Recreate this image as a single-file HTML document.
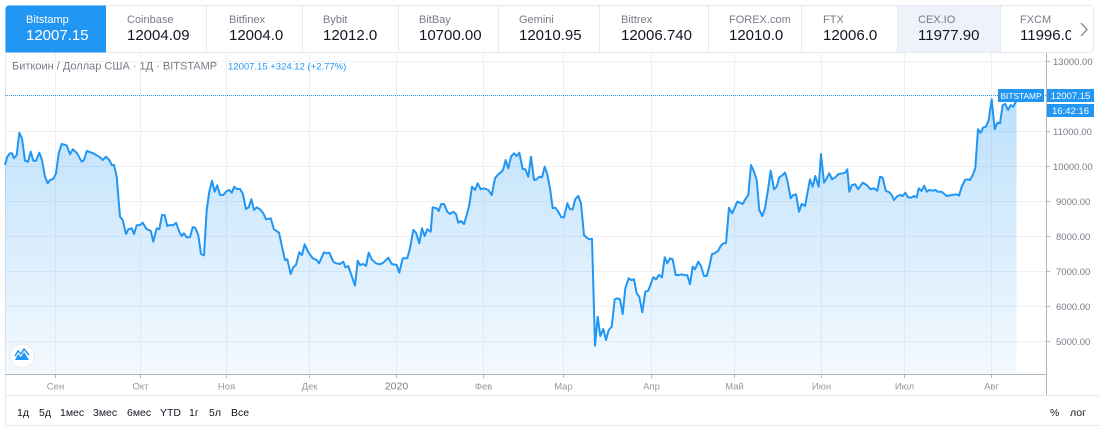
<!DOCTYPE html>
<html><head><meta charset="utf-8"><style>
html,body{margin:0;padding:0;background:#fff;}
svg{display:block;}
text{font-family:"Liberation Sans","DejaVu Sans",sans-serif;}
</style></head><body>
<svg width="1100" height="427" viewBox="0 0 1100 427" xmlns="http://www.w3.org/2000/svg">
<defs>
<linearGradient id="g" x1="0" y1="99" x2="0" y2="374" gradientUnits="userSpaceOnUse">
<stop offset="0" stop-color="#2196f3" stop-opacity="0.30"/>
<stop offset="1" stop-color="#2196f3" stop-opacity="0.05"/>
</linearGradient>
</defs>
<!-- tab bar -->
<rect x="5.5" y="5.5" width="1088" height="47" rx="4" fill="#fff" stroke="#e6e9ef"/>
<rect x="897" y="6" width="103" height="46" fill="#eef2f9"/>
<path d="M5.5 52.5 V9.5 Q5.5 5.5 9.5 5.5 H106 V52.5 Z" fill="#2196f3"/>
<g stroke="#e6e9ef">
<line x1="206.5" y1="6" x2="206.5" y2="52"/>
<line x1="302.5" y1="6" x2="302.5" y2="52"/>
<line x1="398.5" y1="6" x2="398.5" y2="52"/>
<line x1="498.5" y1="6" x2="498.5" y2="52"/>
<line x1="599.5" y1="6" x2="599.5" y2="52"/>
<line x1="708.5" y1="6" x2="708.5" y2="52"/>
<line x1="801.5" y1="6" x2="801.5" y2="52"/>
<line x1="897.5" y1="6" x2="897.5" y2="52"/>
<line x1="1000.5" y1="6" x2="1000.5" y2="52"/>
</g>
<g font-size="11" fill="#787b86">
<text x="26" y="23" fill="#fff">Bitstamp</text>
<text x="127" y="23">Coinbase</text>
<text x="229" y="23">Bitfinex</text>
<text x="323" y="23">Bybit</text>
<text x="419" y="23">BitBay</text>
<text x="519" y="23">Gemini</text>
<text x="621" y="23">Bittrex</text>
<text x="729" y="23">FOREX.com</text>
<text x="823" y="23">FTX</text>
<text x="918" y="23">CEX.IO</text>
<text x="1020" y="23">FXCM</text>
</g>
<g font-size="15" fill="#131722">
<text x="26" y="40" fill="#fff">12007.15</text>
<text x="127" y="40">12004.09</text>
<text x="229" y="40">12004.0</text>
<text x="323" y="40">12012.0</text>
<text x="419" y="40">10700.00</text>
<text x="519" y="40">12010.95</text>
<text x="621" y="40">12006.740</text>
<text x="729" y="40">12010.0</text>
<text x="823" y="40">12006.0</text>
<text x="918" y="40">11977.90</text>
<text x="1020" y="40">11996.0</text>
</g>
<rect x="1071" y="7" width="21" height="44" fill="#fff"/>
<polyline points="1081,23 1087,29.5 1081,36" fill="none" stroke="#787b86" stroke-width="1.2"/>

<!-- chart frame -->
<line x1="5.5" y1="53" x2="5.5" y2="427" stroke="#e6e9ef"/>
<!-- grid -->
<g stroke="#eef0f5" stroke-width="1">
<line x1="5" y1="61.5" x2="1046" y2="61.5"/>
<line x1="5" y1="131.5" x2="1046" y2="131.5"/>
<line x1="5" y1="166.5" x2="1046" y2="166.5"/>
<line x1="5" y1="201.5" x2="1046" y2="201.5"/>
<line x1="5" y1="236.5" x2="1046" y2="236.5"/>
<line x1="5" y1="271.5" x2="1046" y2="271.5"/>
<line x1="5" y1="306.5" x2="1046" y2="306.5"/>
<line x1="5" y1="341.5" x2="1046" y2="341.5"/>
<line x1="55.5" y1="53" x2="55.5" y2="374"/>
<line x1="140.5" y1="53" x2="140.5" y2="374"/>
<line x1="226.5" y1="53" x2="226.5" y2="374"/>
<line x1="309.5" y1="53" x2="309.5" y2="374"/>
<line x1="396.5" y1="53" x2="396.5" y2="374"/>
<line x1="483.5" y1="53" x2="483.5" y2="374"/>
<line x1="563.5" y1="53" x2="563.5" y2="374"/>
<line x1="651.5" y1="53" x2="651.5" y2="374"/>
<line x1="734.5" y1="53" x2="734.5" y2="374"/>
<line x1="821.5" y1="53" x2="821.5" y2="374"/>
<line x1="904.5" y1="53" x2="904.5" y2="374"/>
<line x1="991.5" y1="53" x2="991.5" y2="374"/>
</g>
<!-- legend -->
<text x="12" y="69.5" font-size="11" fill="#787b86">Биткоин / Доллар США · 1Д · BITSTAMP</text>
<text x="228" y="69.5" font-size="9.5" fill="#2196f3">12007.15  +324.12  (+2.77%)</text>

<!-- series -->
<polygon fill="url(#g)" points="5,165 7.3,156.7 10,153.3 12,153.3 14,158.3 16.7,155 19.3,132.7 22,138.3 25,160.7 28,161.7 30.7,151.7 33.3,160.7 36,160.7 39.3,152.7 42,160 45,176.7 47.7,183.3 50,180 53.3,179 56,173.3 58.7,153.3 61.7,144 66.7,145.3 70,154.3 72.7,149.3 76.7,152.7 81.7,161.7 84,160 86.7,151 93.3,153.3 100,157.3 102.7,160 106,156.7 109.3,160 111.7,165 114,165 116.7,176.7 120,216.7 122.7,220 126,234 128.3,229.3 131.7,228.3 134,234 136.7,225.3 140,225 142.7,222.7 146,228.3 148.3,230 150.7,230.7 153.3,241.7 156.7,228.3 159.3,229.3 162,215 164.7,215.3 167.3,226 170,225 173.3,225.3 176,222.7 179.3,231.7 181.7,236 184,233.3 186.7,237.3 190,237.3 192.7,227.3 195.3,227.7 198.3,235 201,254 204,255.3 206.7,210 209.3,191.7 212,180.7 214.7,191.7 217.3,185.3 220,195 223.3,195 226.7,191 229.3,190 231.7,192.7 234.3,186.7 236.7,189 240,189 242.7,193.3 246,209 248.7,207.3 251.3,199.3 254,210 256.7,207.3 260,209.3 263.3,213.3 266,219.3 270.7,218.3 274,229.3 279,232.7 282,246.7 285,260 287.3,259.3 290.7,274 293.3,267.3 296,265 299.3,252.3 302,255 304.7,244.3 308.3,252.3 312.7,258.3 316.7,260 319,263.3 324,252.3 326.7,253.3 329.3,252.7 333.3,261.7 336,263.3 340,264 343.3,261.7 345.3,267.3 348.3,266 355,285.7 357.7,260.7 360,265 363.3,264 366,266 368.7,252.7 371.7,259.3 376,263.3 380,264.3 383.3,262.7 388.3,257.7 391.7,264 396.7,265 399.3,272.7 402.7,258.3 407.3,258.3 410,248.3 413.3,230 416,232.7 419.3,243.3 422,228.3 424.7,236 427.3,229.3 430.7,231.7 432.7,207.3 436.7,208.3 438.7,211 441.3,204 444,204 447.3,211.7 450,214 453.3,211.7 456,214 458.3,222.7 461,221 464,224 466.7,215 469.3,205 472,186.7 475,190 477.7,183.3 480.7,189.3 484,188.3 488.3,190 491.7,195 495,178.3 498.3,174.3 501.7,171.7 503.3,169 505.7,160 508.3,168.3 511,156.7 514,153.3 516.7,156 519.3,152.7 522.7,169 525.3,169.3 528.3,176.7 531,156.7 534,180 536.7,179.3 539.3,176.7 542,177.3 544.7,166.7 547.3,174.3 550,188.3 552.7,208.3 555.3,207.7 558.3,211.7 561.3,217.3 564,217.3 567.3,203.3 570,209.3 572.7,209.3 575.3,199 578.3,196 581,203.3 584,235 586.7,237.7 589.3,239.3 592,238.7 595,345.7 597.7,316.7 600.3,336 603.3,329 606,340 608.7,330 611.7,326.7 614.7,299.3 617.3,298.3 620,299.3 622.7,314 625.3,288.3 628.7,278.3 631.3,280 634,279.3 636.7,293.3 639.3,296.7 642.3,312.3 645.3,291.7 648.3,290.7 651,283.3 653.3,277.3 656,279.3 659,275 662,277.3 664.7,257.3 667.3,263.3 670,258.3 672.7,259.3 675.7,275 678.7,275 682,274.3 685,275.3 687.3,275.3 690,284.3 692.7,266.7 695,269.3 698.3,261.7 701,266 704,276 706.7,276 709.3,266.7 712,254 714.7,253.3 718,251 720.7,246 723.3,243.3 726,243.3 729,207.7 732,213.3 734.7,207.7 737.3,201.7 740,202.7 742.7,204 745.3,199.3 748.3,195 751,165 754,171.7 756.7,180 759.3,210 762.3,216 765,208.3 767.7,191.7 770.7,170.7 774,189.3 776.7,186.7 779.3,177.3 782.7,175 785,172.7 787.3,180 790.7,198.3 793.3,195 796,194.3 799,211.7 801.7,204 805,206 810,179.3 812.7,186.7 815.3,176 818.7,186.7 821,154 824,182.7 826.7,178.3 829.3,173.3 832,179.3 835.3,177.3 838.7,174 842.7,173.3 845.3,172.7 847.3,169.3 849.3,191.7 852,185 855.3,184.3 858,189.3 862.7,182.7 866.7,185 870.7,189.3 874,188.3 877.3,190.7 880,176.7 882.7,177.7 885.7,190.7 889.3,192.3 891.7,195 894,200 896.7,196.7 900,195 902.7,196 905.3,192.7 908,197.3 911.3,197.7 914,196 916.7,197.3 918.7,188.3 921.7,191 924.3,185.7 926.7,191.7 929.3,190 932.3,190.7 935.7,190 937.7,191.7 941.7,191.7 946.7,196 951.7,195 956.7,194.3 959,195.7 961.7,186.7 965,180 967.7,179.3 970,180 972.7,175 975.3,168.3 978,129.3 980.7,132.7 983.3,127.3 986,126.7 988.7,120 991.7,99.3 994.7,129.3 997.3,122.7 1000,123.3 1002.7,105 1005.3,104 1008,110 1010.7,105 1013.3,106.7 1015.3,102.7 1016.5,101 1016.5,373 5,373"/>
<polyline fill="none" stroke="#2196f3" stroke-width="2" stroke-linejoin="round" points="5,165 7.3,156.7 10,153.3 12,153.3 14,158.3 16.7,155 19.3,132.7 22,138.3 25,160.7 28,161.7 30.7,151.7 33.3,160.7 36,160.7 39.3,152.7 42,160 45,176.7 47.7,183.3 50,180 53.3,179 56,173.3 58.7,153.3 61.7,144 66.7,145.3 70,154.3 72.7,149.3 76.7,152.7 81.7,161.7 84,160 86.7,151 93.3,153.3 100,157.3 102.7,160 106,156.7 109.3,160 111.7,165 114,165 116.7,176.7 120,216.7 122.7,220 126,234 128.3,229.3 131.7,228.3 134,234 136.7,225.3 140,225 142.7,222.7 146,228.3 148.3,230 150.7,230.7 153.3,241.7 156.7,228.3 159.3,229.3 162,215 164.7,215.3 167.3,226 170,225 173.3,225.3 176,222.7 179.3,231.7 181.7,236 184,233.3 186.7,237.3 190,237.3 192.7,227.3 195.3,227.7 198.3,235 201,254 204,255.3 206.7,210 209.3,191.7 212,180.7 214.7,191.7 217.3,185.3 220,195 223.3,195 226.7,191 229.3,190 231.7,192.7 234.3,186.7 236.7,189 240,189 242.7,193.3 246,209 248.7,207.3 251.3,199.3 254,210 256.7,207.3 260,209.3 263.3,213.3 266,219.3 270.7,218.3 274,229.3 279,232.7 282,246.7 285,260 287.3,259.3 290.7,274 293.3,267.3 296,265 299.3,252.3 302,255 304.7,244.3 308.3,252.3 312.7,258.3 316.7,260 319,263.3 324,252.3 326.7,253.3 329.3,252.7 333.3,261.7 336,263.3 340,264 343.3,261.7 345.3,267.3 348.3,266 355,285.7 357.7,260.7 360,265 363.3,264 366,266 368.7,252.7 371.7,259.3 376,263.3 380,264.3 383.3,262.7 388.3,257.7 391.7,264 396.7,265 399.3,272.7 402.7,258.3 407.3,258.3 410,248.3 413.3,230 416,232.7 419.3,243.3 422,228.3 424.7,236 427.3,229.3 430.7,231.7 432.7,207.3 436.7,208.3 438.7,211 441.3,204 444,204 447.3,211.7 450,214 453.3,211.7 456,214 458.3,222.7 461,221 464,224 466.7,215 469.3,205 472,186.7 475,190 477.7,183.3 480.7,189.3 484,188.3 488.3,190 491.7,195 495,178.3 498.3,174.3 501.7,171.7 503.3,169 505.7,160 508.3,168.3 511,156.7 514,153.3 516.7,156 519.3,152.7 522.7,169 525.3,169.3 528.3,176.7 531,156.7 534,180 536.7,179.3 539.3,176.7 542,177.3 544.7,166.7 547.3,174.3 550,188.3 552.7,208.3 555.3,207.7 558.3,211.7 561.3,217.3 564,217.3 567.3,203.3 570,209.3 572.7,209.3 575.3,199 578.3,196 581,203.3 584,235 586.7,237.7 589.3,239.3 592,238.7 595,345.7 597.7,316.7 600.3,336 603.3,329 606,340 608.7,330 611.7,326.7 614.7,299.3 617.3,298.3 620,299.3 622.7,314 625.3,288.3 628.7,278.3 631.3,280 634,279.3 636.7,293.3 639.3,296.7 642.3,312.3 645.3,291.7 648.3,290.7 651,283.3 653.3,277.3 656,279.3 659,275 662,277.3 664.7,257.3 667.3,263.3 670,258.3 672.7,259.3 675.7,275 678.7,275 682,274.3 685,275.3 687.3,275.3 690,284.3 692.7,266.7 695,269.3 698.3,261.7 701,266 704,276 706.7,276 709.3,266.7 712,254 714.7,253.3 718,251 720.7,246 723.3,243.3 726,243.3 729,207.7 732,213.3 734.7,207.7 737.3,201.7 740,202.7 742.7,204 745.3,199.3 748.3,195 751,165 754,171.7 756.7,180 759.3,210 762.3,216 765,208.3 767.7,191.7 770.7,170.7 774,189.3 776.7,186.7 779.3,177.3 782.7,175 785,172.7 787.3,180 790.7,198.3 793.3,195 796,194.3 799,211.7 801.7,204 805,206 810,179.3 812.7,186.7 815.3,176 818.7,186.7 821,154 824,182.7 826.7,178.3 829.3,173.3 832,179.3 835.3,177.3 838.7,174 842.7,173.3 845.3,172.7 847.3,169.3 849.3,191.7 852,185 855.3,184.3 858,189.3 862.7,182.7 866.7,185 870.7,189.3 874,188.3 877.3,190.7 880,176.7 882.7,177.7 885.7,190.7 889.3,192.3 891.7,195 894,200 896.7,196.7 900,195 902.7,196 905.3,192.7 908,197.3 911.3,197.7 914,196 916.7,197.3 918.7,188.3 921.7,191 924.3,185.7 926.7,191.7 929.3,190 932.3,190.7 935.7,190 937.7,191.7 941.7,191.7 946.7,196 951.7,195 956.7,194.3 959,195.7 961.7,186.7 965,180 967.7,179.3 970,180 972.7,175 975.3,168.3 978,129.3 980.7,132.7 983.3,127.3 986,126.7 988.7,120 991.7,99.3 994.7,129.3 997.3,122.7 1000,123.3 1002.7,105 1005.3,104 1008,110 1010.7,105 1013.3,106.7 1015.3,102.7 1016.5,101"/>

<!-- last price dotted line -->
<line x1="5" y1="95.5" x2="1046" y2="95.5" stroke="#2196f3" stroke-width="1" stroke-dasharray="1,1"/>

<!-- axes -->
<line x1="5" y1="374.5" x2="1046" y2="374.5" stroke="#b2b5be"/>
<line x1="1046.5" y1="53" x2="1046.5" y2="396" stroke="#b2b5be"/>
<line x1="5" y1="395.5" x2="1100" y2="395.5" stroke="#e6e9ef"/>
<line x1="5" y1="425.5" x2="1100" y2="425.5" stroke="#e6e9ef"/>
<g stroke="#b2b5be">
<line x1="1046" y1="61.5" x2="1050" y2="61.5"/>
<line x1="1046" y1="131.5" x2="1050" y2="131.5"/>
<line x1="1046" y1="166.5" x2="1050" y2="166.5"/>
<line x1="1046" y1="201.5" x2="1050" y2="201.5"/>
<line x1="1046" y1="236.5" x2="1050" y2="236.5"/>
<line x1="1046" y1="271.5" x2="1050" y2="271.5"/>
<line x1="1046" y1="306.5" x2="1050" y2="306.5"/>
<line x1="1046" y1="341.5" x2="1050" y2="341.5"/>
<line x1="55.5" y1="374" x2="55.5" y2="378"/>
<line x1="140.5" y1="374" x2="140.5" y2="378"/>
<line x1="226.5" y1="374" x2="226.5" y2="378"/>
<line x1="309.5" y1="374" x2="309.5" y2="378"/>
<line x1="396.5" y1="374" x2="396.5" y2="378"/>
<line x1="483.5" y1="374" x2="483.5" y2="378"/>
<line x1="563.5" y1="374" x2="563.5" y2="378"/>
<line x1="651.5" y1="374" x2="651.5" y2="378"/>
<line x1="734.5" y1="374" x2="734.5" y2="378"/>
<line x1="821.5" y1="374" x2="821.5" y2="378"/>
<line x1="904.5" y1="374" x2="904.5" y2="378"/>
<line x1="991.5" y1="374" x2="991.5" y2="378"/>
</g>
<g font-size="9.5" fill="#787b86">
<text x="1053" y="65">13000.00</text>
<text x="1053" y="135">11000.00</text>
<text x="1053" y="170">10000.00</text>
<text x="1056" y="205">9000.00</text>
<text x="1056" y="240">8000.00</text>
<text x="1056" y="275">7000.00</text>
<text x="1056" y="310">6000.00</text>
<text x="1056" y="345">5000.00</text>
</g>
<g font-size="9.5" fill="#9598a1" text-anchor="middle">
<text x="55.5" y="389.5">Сен</text>
<text x="140.5" y="389.5">Окт</text>
<text x="226.5" y="389.5">Ноя</text>
<text x="309.5" y="389.5">Дек</text>
<text x="396.5" y="389.5" font-size="10.5" fill="#787b86">2020</text>
<text x="483.5" y="389.5">Фев</text>
<text x="563.5" y="389.5">Мар</text>
<text x="651.5" y="389.5">Апр</text>
<text x="734.5" y="389.5">Май</text>
<text x="821.5" y="389.5">Июн</text>
<text x="904.5" y="389.5">Июл</text>
<text x="991.5" y="389.5">Авг</text>
</g>

<!-- price labels -->
<rect x="998" y="89" width="46" height="13" fill="#2196f3"/>
<text x="1021" y="99" font-size="8.5" fill="#fff" text-anchor="middle" textLength="41" lengthAdjust="spacingAndGlyphs">BITSTAMP</text>
<rect x="1047" y="89" width="47" height="13" fill="#2196f3"/>
<text x="1070.5" y="99" font-size="9.5" fill="#fff" text-anchor="middle">12007.15</text>
<rect x="1047" y="104" width="47" height="13" fill="#2196f3"/>
<text x="1070.5" y="114" font-size="9.5" fill="#fff" text-anchor="middle">16:42:16</text>

<!-- bottom-left icon -->
<circle cx="22" cy="356" r="12" fill="#fff" stroke="#e6e9ef"/>
<path d="M15 360 L18 354 L21 357 L24 352 L29 360 Z" fill="#2196f3"/>
<path d="M15 356 L18 351 L21 354 L24 349 L29 355" fill="none" stroke="#2196f3" stroke-width="1.5"/>

<!-- range buttons -->
<g font-size="10.5" fill="#131722">
<text x="17" y="416">1д</text>
<text x="39" y="416">5д</text>
<text x="60" y="416">1мес</text>
<text x="93" y="416">3мес</text>
<text x="127" y="416">6мес</text>
<text x="160" y="416">YTD</text>
<text x="189" y="416">1г</text>
<text x="209" y="416">5л</text>
<text x="231" y="416">Все</text>
<text x="1050" y="416">%</text>
<text x="1070" y="416">лог</text>
</g>
</svg>
</body></html>
